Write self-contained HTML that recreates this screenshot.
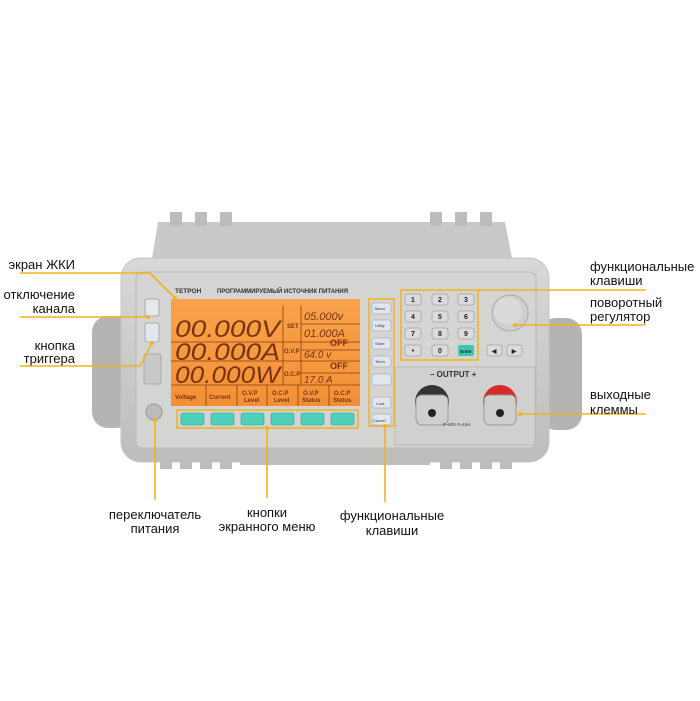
<!DOCTYPE html>
<html><head><meta charset="utf-8"><style>
html,body{margin:0;padding:0;background:#fff;}
svg{display:block}
text{font-family:"Liberation Sans",sans-serif;}
</style></head><body>
<svg width="700" height="701" viewBox="0 0 700 701" xmlns="http://www.w3.org/2000/svg">
<defs>
<linearGradient id="g1" x1="0" y1="0" x2="0" y2="1"><stop offset="0" stop-color="#d8d8d6"/><stop offset="1" stop-color="#bdbdbb"/></linearGradient>
<linearGradient id="lcd" x1="0" y1="0" x2="0" y2="1"><stop offset="0" stop-color="#f9a24a"/><stop offset="1" stop-color="#f39036"/></linearGradient>
</defs>
<rect x="92" y="316" width="40" height="112" rx="16" fill="#b4b4b2"/>
<rect x="540" y="318" width="42" height="112" rx="16" fill="#b4b4b2"/>
<path d="M152 258 L158 222 L505 222 L512 258 Z" fill="#c9c9c7"/>
<g fill="#bcbcba"><rect x="170" y="212" width="12" height="14"/><rect x="195" y="212" width="12" height="14"/><rect x="220" y="212" width="12" height="14"/><rect x="430" y="212" width="12" height="14"/><rect x="455" y="212" width="12" height="14"/><rect x="480" y="212" width="12" height="14"/></g>
<rect x="121" y="258" width="428" height="204" rx="20" fill="url(#g1)" stroke="#c4c4c2"/>
<g fill="#bdbdbb"><rect x="160" y="455" width="12" height="14"/><rect x="180" y="455" width="12" height="14"/><rect x="200" y="455" width="12" height="14"/><rect x="220" y="455" width="12" height="14"/><rect x="440" y="455" width="12" height="14"/><rect x="460" y="455" width="12" height="14"/><rect x="480" y="455" width="12" height="14"/><rect x="500" y="455" width="12" height="14"/><rect x="240" y="455" width="190" height="10"/></g>
<rect x="136" y="272" width="400" height="176" rx="6" fill="#d4d4d2" stroke="#b8b8b6"/>
<rect x="395" y="367" width="140" height="78" fill="#d0d0ce" stroke="#bbb"/>
<rect x="145" y="299" width="14" height="17" rx="2" fill="#e6e8ec" stroke="#aaa"/>
<rect x="145" y="323" width="14" height="19" rx="2" fill="#dfe6f0" stroke="#aaa"/>
<rect x="144" y="354" width="17" height="30" rx="2" fill="#c8c8c6" stroke="#aaa"/>
<circle cx="154" cy="412" r="8" fill="#bbb" stroke="#999"/>
<text x="175" y="293" font-size="6.5" font-weight="bold" fill="#333">ТЕТРОН</text>
<text x="217" y="293" font-size="6" font-weight="bold" fill="#333">ПРОГРАММИРУЕМЫЙ ИСТОЧНИК ПИТАНИЯ</text>
<rect x="171" y="299" width="189" height="107" fill="url(#lcd)"/>
<g stroke="#8a3f10" stroke-width="0.8" fill="none">
<line x1="171" y1="342" x2="360" y2="342"/><line x1="171" y1="361" x2="360" y2="361"/><line x1="171" y1="385" x2="360" y2="385"/>
<line x1="283" y1="306" x2="283" y2="385"/><line x1="301" y1="306" x2="301" y2="385"/>
<line x1="301" y1="324" x2="360" y2="324"/><line x1="301" y1="350" x2="360" y2="350"/><line x1="301" y1="373" x2="360" y2="373"/>
<line x1="206" y1="385" x2="206" y2="406"/><line x1="237" y1="385" x2="237" y2="406"/><line x1="267" y1="385" x2="267" y2="406"/><line x1="298" y1="385" x2="298" y2="406"/><line x1="329" y1="385" x2="329" y2="406"/>
</g>
<g fill="#7a3410" font-style="italic">
<text x="175" y="337" font-size="24" textLength="105" lengthAdjust="spacingAndGlyphs">00.000V</text>
<text x="175" y="360" font-size="24" textLength="105" lengthAdjust="spacingAndGlyphs">00.000A</text>
<text x="175" y="383" font-size="24" textLength="105" lengthAdjust="spacingAndGlyphs">00.000W</text>
<text x="304" y="320" font-size="11">05.000v</text>
<text x="304" y="337" font-size="11">01.000A</text>
<text x="304" y="358" font-size="10">64.0  v</text>
<text x="304" y="383" font-size="10">17.0   A</text>
</g>
<g fill="#7a3410" font-size="6" font-weight="bold">
<text x="287" y="328">SET</text><text x="284" y="353">O.V.P</text><text x="284" y="376">O.C.P</text>
<text x="330" y="346" font-size="9">OFF</text><text x="330" y="369" font-size="9">OFF</text>
<text x="175" y="399">Voltage</text><text x="209" y="399">Current</text>
<text x="242" y="395">O.V.P</text><text x="244" y="402">Level</text>
<text x="272" y="395">O.C.P</text><text x="274" y="402">Level</text>
<text x="303" y="395">O.V.P</text><text x="302" y="402">Status</text>
<text x="334" y="395">O.C.P</text><text x="333" y="402">Status</text>
</g>
<g fill="#4fd0bb" stroke="#2f9f8f" stroke-width="0.6">
<rect x="181" y="413" width="23" height="12" rx="2"/><rect x="211" y="413" width="23" height="12" rx="2"/><rect x="241" y="413" width="23" height="12" rx="2"/><rect x="271" y="413" width="23" height="12" rx="2"/><rect x="301" y="413" width="23" height="12" rx="2"/><rect x="331" y="413" width="23" height="12" rx="2"/>
</g>
<rect x="177" y="410" width="181" height="18" fill="none" stroke="#f2b21f" stroke-width="1.5"/>
<rect x="369" y="299" width="25" height="127" fill="none" stroke="#f2b21f" stroke-width="1.5"/>
<g fill="#dfe6ee" stroke="#999" stroke-width="0.5">
<rect x="372" y="303" width="19" height="11" rx="2"/><rect x="372" y="320" width="19" height="11" rx="2"/><rect x="372" y="338" width="19" height="11" rx="2"/><rect x="372" y="356" width="19" height="11" rx="2"/><rect x="372" y="374" width="19" height="11" rx="2"/><rect x="372" y="397" width="19" height="11" rx="2"/><rect x="372" y="414" width="19" height="11" rx="2"/>
</g>
<g font-size="4" fill="#333"><text x="375" y="310">Menu</text><text x="375" y="327">Utility</text><text x="375" y="345">Store</text><text x="375" y="363">Timer</text><text x="376" y="405">Lock</text><text x="373" y="422">Cancel</text></g>
<rect x="401" y="290" width="77" height="70" fill="none" stroke="#f2b21f" stroke-width="1.5"/>
<g fill="#d9dbdd" stroke="#888" stroke-width="0.5">
<rect x="405" y="294" width="16" height="11" rx="2"/><rect x="432" y="294" width="16" height="11" rx="2"/><rect x="458" y="294" width="16" height="11" rx="2"/>
<rect x="405" y="311" width="16" height="11" rx="2"/><rect x="432" y="311" width="16" height="11" rx="2"/><rect x="458" y="311" width="16" height="11" rx="2"/>
<rect x="405" y="328" width="16" height="11" rx="2"/><rect x="432" y="328" width="16" height="11" rx="2"/><rect x="458" y="328" width="16" height="11" rx="2"/>
<rect x="405" y="345" width="16" height="11" rx="2"/><rect x="432" y="345" width="16" height="11" rx="2"/>
<rect x="487" y="345" width="15" height="11" rx="2"/><rect x="507" y="345" width="15" height="11" rx="2"/>
</g>
<rect x="458" y="345" width="16" height="11" rx="2" fill="#3fc7ae"/>
<g font-size="7" font-weight="bold" fill="#222" text-anchor="middle">
<text x="413" y="302">1</text><text x="440" y="302">2</text><text x="466" y="302">3</text>
<text x="413" y="319">4</text><text x="440" y="319">5</text><text x="466" y="319">6</text>
<text x="413" y="336">7</text><text x="440" y="336">8</text><text x="466" y="336">9</text>
<text x="413" y="353">•</text><text x="440" y="353">0</text><text x="466" y="353" font-size="4.5">Enter</text>
<text x="494" y="353" font-size="6">◀</text><text x="514" y="353" font-size="6">▶</text>
</g>
<circle cx="510" cy="313" r="18" fill="#cfcfcd" stroke="#aaa"/>
<circle cx="508" cy="311" r="14" fill="#dadad8"/>
<text x="430" y="377" font-size="8" font-weight="bold" fill="#333">–    OUTPUT    +</text>
<circle cx="432" cy="402" r="17" fill="#333"/>
<circle cx="500" cy="402" r="17" fill="#d52a2a"/>
<rect x="416" y="395" width="32" height="30" rx="6" fill="#cfcfcd" stroke="#999"/>
<rect x="484" y="395" width="32" height="30" rx="6" fill="#cfcfcd" stroke="#999"/>
<circle cx="432" cy="413" r="4" fill="#222"/><circle cx="500" cy="413" r="4" fill="#222"/>
<text x="443" y="426" font-size="4.5" fill="#333">0~60V 0~15A</text>
<g stroke="#f2b21f" stroke-width="1.6" fill="none">
<polyline points="20,273 150,273 175,298"/>
<line x1="20" y1="317" x2="148" y2="317"/>
<polyline points="20,366 140,366 152,343"/>
<line x1="478" y1="290" x2="646" y2="290"/>
<line x1="515" y1="325" x2="646" y2="325"/>
<line x1="520" y1="414" x2="646" y2="414"/>
<line x1="155" y1="420" x2="155" y2="500"/>
<line x1="267" y1="428" x2="267" y2="498"/>
<line x1="385" y1="426" x2="385" y2="502"/>
</g>
<g fill="#f2b21f"><circle cx="175" cy="298" r="2"/><circle cx="148" cy="317" r="2"/><circle cx="152" cy="343" r="2"/><circle cx="515" cy="325" r="2"/><circle cx="520" cy="414" r="2"/><circle cx="155" cy="420" r="2"/><circle cx="267" cy="428" r="2"/><circle cx="385" cy="426" r="2"/></g>
<g font-size="13" fill="#111">
<text x="75" y="269" text-anchor="end">экран ЖКИ</text>
<text x="75" y="299" text-anchor="end">отключение</text>
<text x="75" y="313" text-anchor="end">канала</text>
<text x="75" y="350" text-anchor="end">кнопка</text>
<text x="75" y="363" text-anchor="end">триггера</text>
<text x="590" y="271">функциональные</text>
<text x="590" y="285">клавиши</text>
<text x="590" y="307">поворотный</text>
<text x="590" y="321">регулятор</text>
<text x="590" y="399">выходные</text>
<text x="590" y="414">клеммы</text>
<text x="155" y="519" text-anchor="middle">переключатель</text>
<text x="155" y="533" text-anchor="middle">питания</text>
<text x="267" y="517" text-anchor="middle">кнопки</text>
<text x="267" y="531" text-anchor="middle">экранного меню</text>
<text x="392" y="520" text-anchor="middle">функциональные</text>
<text x="392" y="535" text-anchor="middle">клавиши</text>
</g>
</svg>
</body></html>
